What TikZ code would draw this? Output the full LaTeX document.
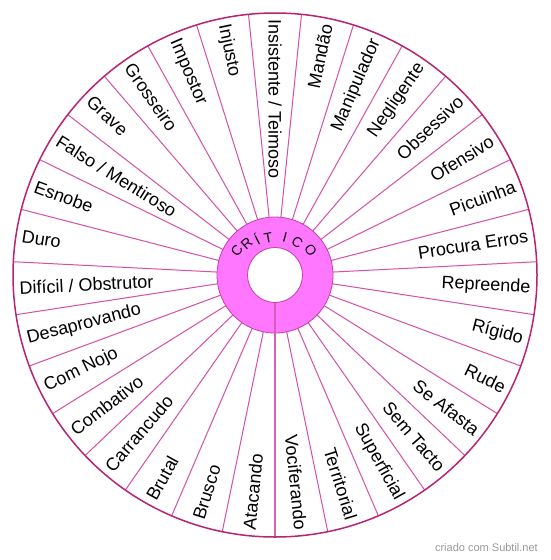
\documentclass[tikz,border=0pt]{standalone}
\usepackage{fontspec}
\setmainfont{Liberation Sans}
\definecolor{rim}{RGB}{185,35,115}
\definecolor{spoke}{RGB}{214,80,165}
\definecolor{ringfill}{RGB}{255,119,255}
\definecolor{ringedge}{RGB}{200,60,170}
\definecolor{splitc}{RGB}{215,95,185}
\begin{document}
\begin{tikzpicture}[x=1pt,y=1pt,
  lbl/.style={font=\fontsize{18}{20}\selectfont, inner sep=0pt},
  ttl/.style={font=\fontsize{14}{16}\selectfont, inner sep=0pt},
  spokeline/.style={draw=spoke, line width=1pt}]
\fill[white] (0,0) rectangle (550,-560);
\useasboundingbox (0,0) rectangle (550,-560);
\begin{scope}[shift={(275,-275)}]
  \coordinate (O) at (0,0);
  % spokes
  \foreach \i in {1,...,30} {
    \pgfmathsetmacro\a{270-\i*360/31}
    \draw[spokeline] (\a:58) -- (\a:262);
  }
  % ring
  \fill[ringfill, even odd rule] (O) circle (58) (O) circle (27.5);
  \draw[ringedge, line width=0.8pt] (O) circle (58);
  \draw[ringedge, line width=0.8pt] (O) circle (27.5);
  \draw[splitc, line width=1.3pt] (270:27.5) -- (270:262);
  % outer rim
  \node[circle, draw=rim, line width=1.5pt, minimum size=524pt, inner sep=0pt] (wheel) at (O) {};
  % labels
  \foreach \t [count=\i from 0] in {Atacando, Brusco, Brutal, Carrancudo, Combativo, Com Nojo, Desaprovando, Difícil / Obstrutor, Duro, Esnobe, Falso / Mentiroso, Grave, Grosseiro, Impostor, Injusto, Insistente / Teimoso, Mandão, Manipulador, Negligente, Obsessivo, Ofensivo, Picuinha, Procura Erros, Repreende, Rígido, Rude, Se Afasta, Sem Tacto, Superficial, Territorial, Vociferando} {
    \pgfmathsetmacro\a{270-(\i+0.5)*360/31}
    \pgfmathparse{cos(\a)>0.01 ? 1 : 0}
    \ifnum\pgfmathresult=1
      \node[lbl, anchor=east, rotate=\a] (l\i) at (\a:256) {\t};
    \else
      \node[lbl, anchor=west, rotate=\a+180] (l\i) at (\a:256) {\t};
    \fi
  }
  % title letters
  \node[ttl, rotate=56.9] (t1) at (146.9:45.5) {C};
  \node[ttl, rotate=41.8] (t2) at (131.8:42.5) {R};
  \node[ttl, rotate=26.8] (t3) at (116.8:40) {Í};
  \node[ttl, rotate=10.3] (t4) at (100.3:38) {T};
  \node[ttl, rotate=-15.2] (t5) at (74.8:38.5) {I};
  \node[ttl, rotate=-34.4] (t6) at (55.6:39.5) {C};
  \node[ttl, rotate=-55.2] (t7) at (34.8:43.5) {O};
\end{scope}
\node[font=\fontsize{11}{13}\selectfont, text=gray!80, anchor=east, inner sep=0pt] (wm) at (538,-548) {criado com Subtil.net};
\end{tikzpicture}
\end{document}
